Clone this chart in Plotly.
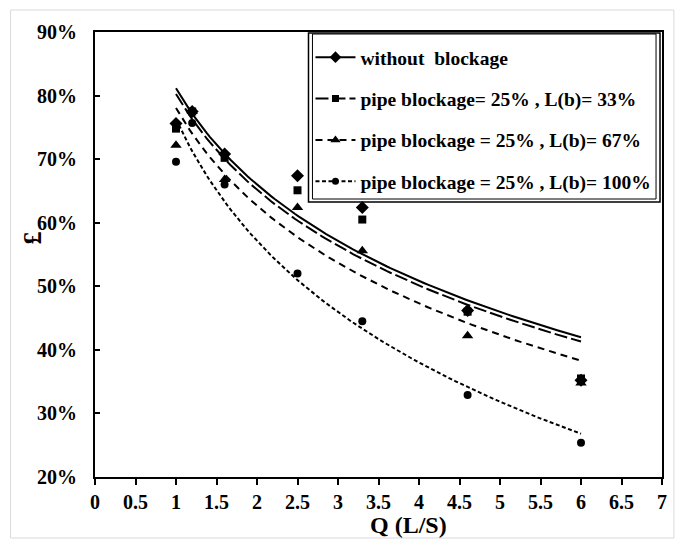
import numpy as np
import plotly.graph_objects as go

# Flow rate (L/S) at each measured point
q = [1.0, 1.2, 1.6, 2.5, 3.3, 4.6, 6.0]

# Efficiency values (%) for each test condition
without_blockage = [75.6, 77.5, 70.8, 67.4, 62.4, 46.2, 35.2]
blockage_l33 = [74.8, 77.5, 70.2, 65.1, 60.5, 46.0, 35.5]
blockage_l67 = [72.2, 77.5, 66.8, 62.4, 55.6, 42.2, 34.8]
blockage_l100 = [69.6, 75.7, 66.0, 52.0, 44.5, 32.9, 25.4]

names = [
    "without\u00a0\u00a0blockage",
    "pipe blockage= 25% , L(b)= 33%",
    "pipe blockage = 25% , L(b)= 67%",
    "pipe blockage = 25% , L(b)= 100%",
]
series = [without_blockage, blockage_l33, blockage_l67, blockage_l100]
symbols = ["diamond", "square", "triangle-up", "circle"]
marker_sizes = [10, 8, 10, 8]
dashes = ["solid", "13px,4px", "7px,5px", "4px,2.5px"]

FONT = "Liberation Serif, Times New Roman, serif"

# plot-area pixel geometry, used to place paper-referenced decorations
L, R, T, B = 95, 666, 32, 477
PW, PH = R - L, B - T


def px(x):
    return (x - L) / PW


def py(y):
    return (B - y) / PH


fig = go.Figure()

x_arr = np.array(q)
for i, (name, vals) in enumerate(zip(names, series)):
    y_arr = np.array(vals) / 100.0
    # logarithmic trendline: y = a + b*ln(x)
    b, a = np.polyfit(np.log(x_arr), y_arr, 1)
    xs = np.linspace(x_arr.min(), x_arr.max(), 120)
    ys = a + b * np.log(xs)
    fig.add_trace(go.Scatter(
        x=xs, y=ys, mode="lines",
        line=dict(color="black", width=2, dash=dashes[i]),
        showlegend=False, hoverinfo="skip",
    ))
    fig.add_trace(go.Scatter(
        x=q, y=y_arr, mode="markers",
        marker=dict(symbol=symbols[i], size=marker_sizes[i], color="black"),
        showlegend=False,
    ))
    # legend entry showing line style with marker
    fig.add_trace(go.Scatter(
        x=[None], y=[None], mode="lines+markers", name=name,
        legendgroup=f"g{i}",
        line=dict(color="black", width=2, dash=dashes[i]),
        marker=dict(symbol=symbols[i], size=marker_sizes[i] - 1, color="black"),
    ))

fig.update_layout(
    width=679, height=540,
    margin=dict(l=L, r=679 - R, t=T, b=540 - B),
    paper_bgcolor="white", plot_bgcolor="white",
    font=dict(family=FONT, size=20, color="black"),
    showlegend=True,
    legend=dict(
        x=px(312), y=py(38), xanchor="left", yanchor="top",
        borderwidth=0, bgcolor="rgba(0,0,0,0)",
        font=dict(family=FONT, size=19.5, color="black", weight="bold"),
        traceorder="grouped", tracegroupgap=13,
        itemwidth=40,
    ),
    xaxis=dict(
        range=[0, 7], dtick=0.5, tick0=0,
        showgrid=False, zeroline=False,
        showline=True, linecolor="black", linewidth=2, mirror=True,
        ticks="outside", ticklen=6, tickwidth=2, tickcolor="black",
        tickfont=dict(family=FONT, size=20, weight="bold"),
    ),
    yaxis=dict(
        range=[0.2, 0.9], dtick=0.1, tick0=0.2, tickformat=".0%",
        showgrid=False, zeroline=False,
        showline=True, linecolor="black", linewidth=2, mirror=True,
        ticks="inside", ticklen=5, tickwidth=2, tickcolor="black",
        ticklabelstandoff=12,
        tickfont=dict(family=FONT, size=20, weight="bold"),
    ),
    annotations=[
        dict(
            text="<b>£</b>", xref="paper", yref="paper",
            x=px(32), y=py(238), xanchor="center", yanchor="middle",
            showarrow=False, textangle=-90,
            font=dict(family=FONT, size=26, color="black"),
        ),
        dict(
            text="<b>Q (L/S)</b>", xref="paper", yref="paper",
            x=px(411), y=py(525), xanchor="center", yanchor="middle",
            showarrow=False,
            font=dict(family=FONT, size=24, color="black"),
        ),
    ],
    shapes=[
        # chart-area frame
        dict(
            type="rect", xref="paper", yref="paper",
            x0=px(10), x1=px(678), y0=py(538), y1=py(10),
            line=dict(color="#d9d9d9", width=1), layer="below",
        ),
        # legend box (double-ruled)
        dict(
            type="rect", xref="paper", yref="paper",
            x0=px(310), x1=px(664), y0=py(202), y1=py(33),
            line=dict(color="black", width=1.5), fillcolor="white", layer="below",
        ),
        dict(
            type="rect", xref="paper", yref="paper",
            x0=px(314), x1=px(660), y0=py(199), y1=py(34),
            line=dict(color="black", width=1), layer="below",
        ),
    ],
)

fig.write_html("out.html")
